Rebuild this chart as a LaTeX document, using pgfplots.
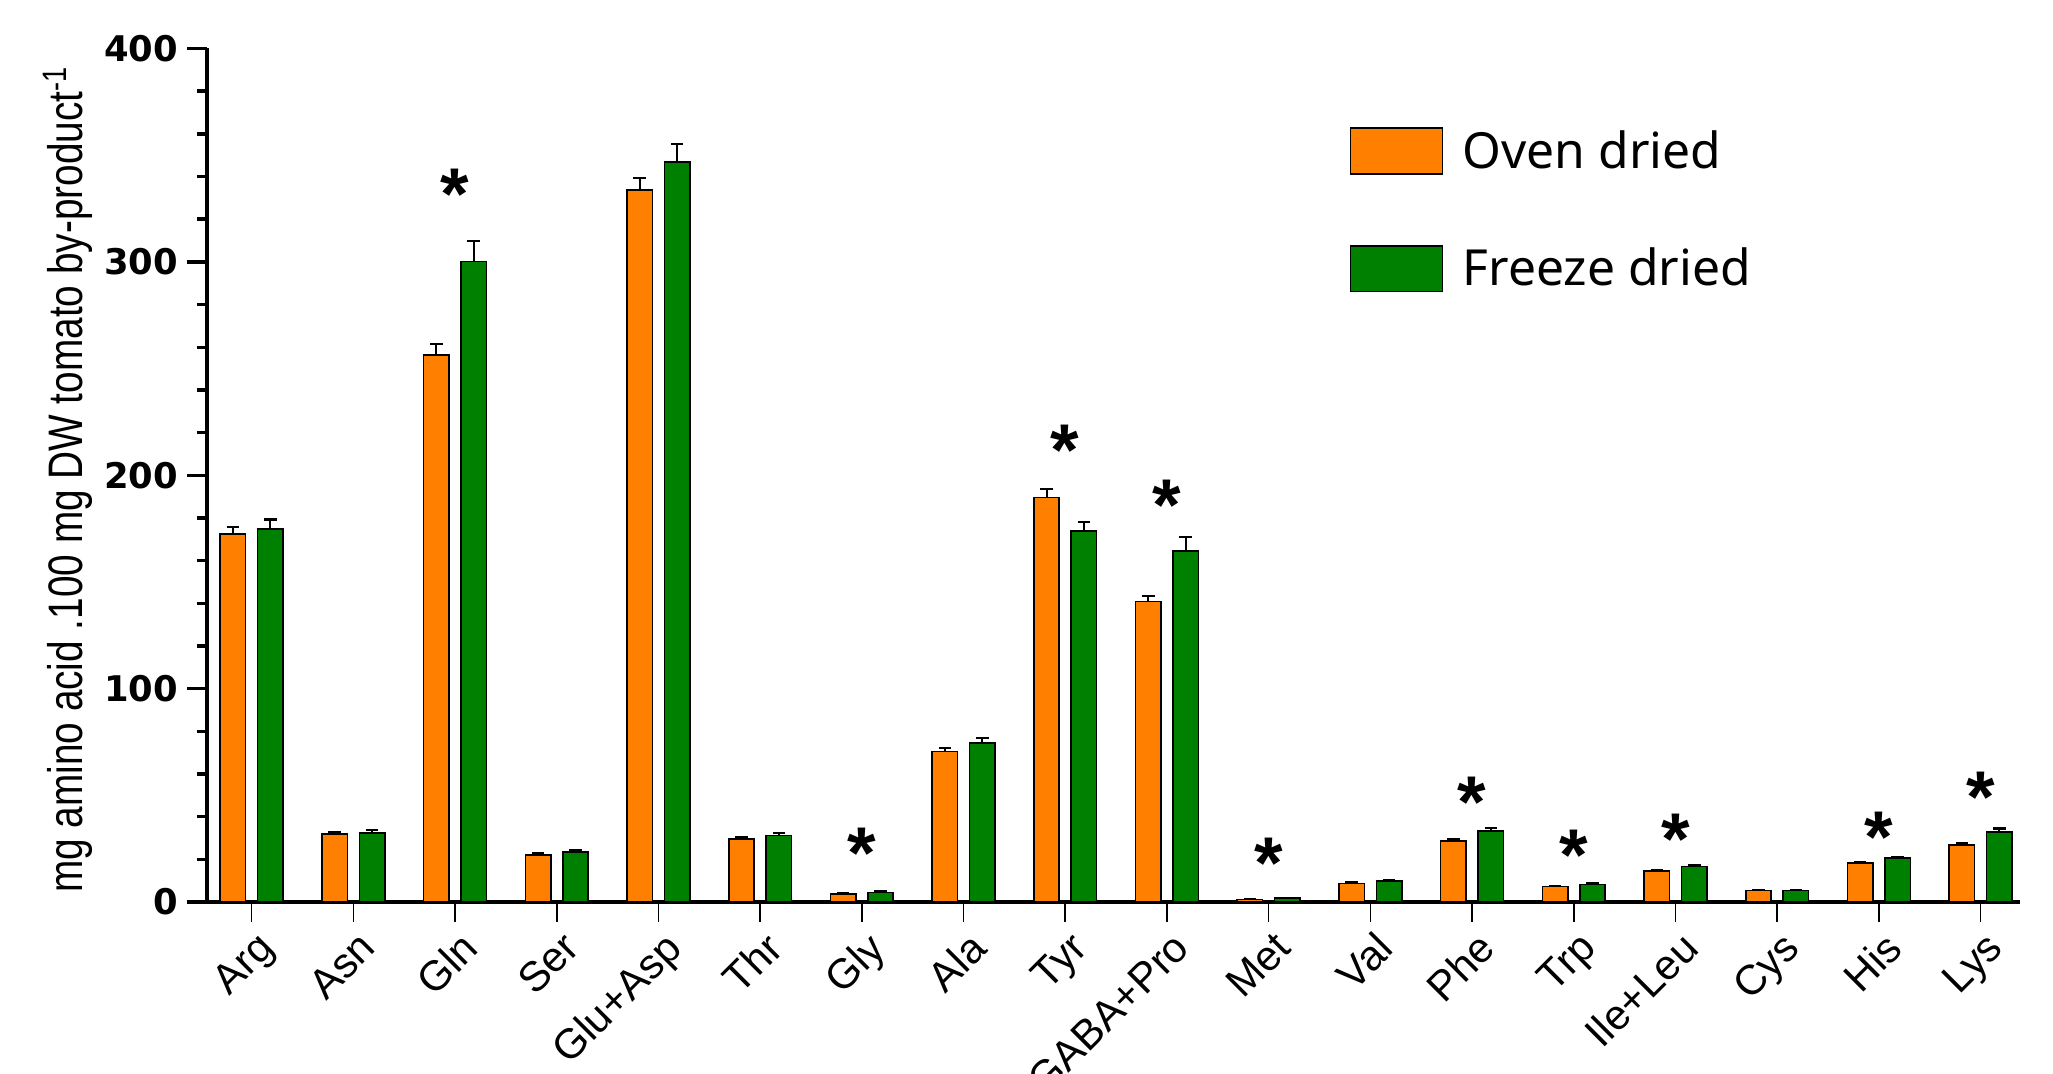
\documentclass[border=0pt]{standalone}
\usepackage{fontspec}
\setmainfont{Liberation Sans}
\newfontfamily\legfont{Noto Sans}
\newfontfamily\tickfont{DejaVu Sans}
\newfontfamily\ylabfont{Liberation Sans}[FakeStretch=0.8]
\usepackage{pgfplots}
\usepackage{pgfplotstable}
\pgfplotsset{compat=1.18}
\definecolor{ovenc}{RGB}{255,128,0}
\definecolor{freezec}{RGB}{0,128,0}
\tikzset{starn/.style={font=\bfseries\fontsize{28}{28}\selectfont, anchor=base, yshift=-13.7pt, inner sep=0pt}}
\pgfplotsset{boxlegend/.style={legend image code/.code={\draw[##1] (0pt,-8.75pt) rectangle (35pt,8.75pt);}}}
\pgfplotstableread{
x o oe g ge
0 172.4 3.5 174.8 4.5
1 31.9 1.0 32.5 1.5
2 256.4 5.0 300.2 9.5
3 22.2 0.8 23.5 0.8
4 333.8 5.5 346.8 8.5
5 29.6 0.8 31.2 1.0
6 3.8 0.4 4.5 0.5
7 70.6 1.5 74.5 2.5
8 189.5 4.0 173.8 4.5
9 140.8 2.5 164.6 6.5
10 1.3 0.2 1.8 0.2
11 8.8 0.4 9.8 0.5
12 28.6 0.8 33.4 1.3
13 7.3 0.4 8.3 0.5
14 14.6 0.5 16.6 0.6
15 5.4 0.2 5.4 0.2
16 18.3 0.6 20.6 0.7
17 26.9 1.0 32.8 1.7
}\datatab
\begin{document}
\begin{tikzpicture}
\begin{axis}[
  at={(0,0)}, anchor=south west,
  scale only axis, width=692.5pt, height=326pt,
  xmin=-0.44, xmax=17.39, ymin=0, ymax=400,
  axis lines=left, axis line style={-, line width=1.4pt},
  ytick={0,100,...,400}, yticklabels={0,100,200,300,400},
  minor y tick num=4,
  xtick={0,...,17},
  xticklabels={Arg,Asn,Gln,Ser,Glu+Asp,Thr,Gly,Ala,Tyr,GABA+Pro,Met,Val,Phe,Trp,Ile+Leu,Cys,His,Lys},
  tick align=outside,
  major tick length=7.5pt, minor tick length=3.8pt,
  x tick style={black, line width=0.6pt},
  y tick style={black, line width=1.3pt},
  yticklabel style={font=\tickfont\bfseries\fontsize{13.5}{13.5}\selectfont},
  xticklabel style={font=\fontsize{16}{16}\selectfont, rotate=45, anchor=north east, inner sep=1pt, yshift=-2pt},
  ylabel={mg amino acid .100 mg DW tomato by-product\textsuperscript{-1}},
  ylabel style={font=\ylabfont\fontsize{18.5}{18.5}\selectfont, at={(axis description cs:-0.0765,0)}, anchor=west},
  ybar, bar width=0.25,
  legend style={draw=none, fill=none, at={(0.63,0.911)}, anchor=north west,
    font=\legfont\fontsize{19}{23}\selectfont, row sep=25pt, inner sep=0pt,
    /tikz/every odd column/.append style={column sep=5.5pt}},
  legend cell align=left,
]
\addplot[fill=ovenc, draw=black, line width=0.6pt, bar shift=-0.184, boxlegend,
  error bars/.cd, y dir=plus, y explicit, error mark=|,
  error bar style={line width=0.8pt,black},
  error mark options={line width=0.8pt, mark size=2.4pt, black}]
  table[x=x,y=o,y error=oe]{\datatab};
\addlegendentry{Oven dried}
\addplot[fill=freezec, draw=black, line width=0.6pt, bar shift=0.184, boxlegend,
  error bars/.cd, y dir=plus, y explicit, error mark=|,
  error bar style={line width=0.8pt,black},
  error mark options={line width=0.8pt, mark size=2.4pt, black}]
  table[x=x,y=g,y error=ge]{\datatab};
\addlegendentry{Freeze dried}
\node[starn] at (axis cs:2,336.8) {*};
\node[starn] at (axis cs:6,28) {*};
\node[starn] at (axis cs:8,216.6) {*};
\node[starn] at (axis cs:9,190.8) {*};
\node[starn] at (axis cs:10,23.3) {*};
\node[starn] at (axis cs:12,52) {*};
\node[starn] at (axis cs:13,27) {*};
\node[starn] at (axis cs:14,34.4) {*};
\node[starn] at (axis cs:16,35.6) {*};
\node[starn] at (axis cs:17,54) {*};
\end{axis}
\pgfresetboundingbox
\path[use as bounding box] (-79pt,-65.5pt) rectangle (705pt,344.5pt);
\end{tikzpicture}
\end{document}
